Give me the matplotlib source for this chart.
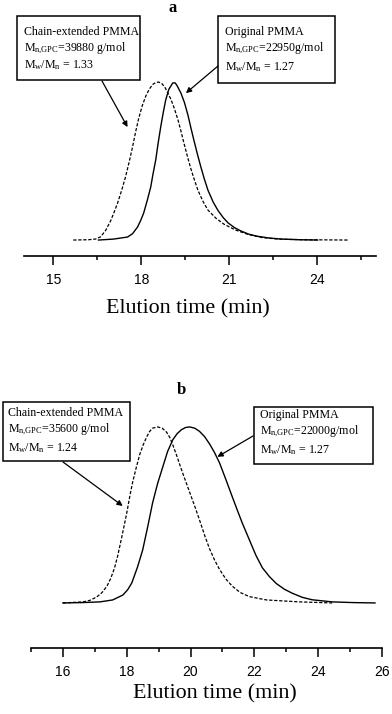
import matplotlib.pyplot as plt
from matplotlib.patches import Rectangle
from matplotlib.ticker import MultipleLocator

# ---- panel a: elution time (min) vs normalised detector signal
a_ext_t = [15.68, 16.20, 16.43, 16.61, 16.78, 16.95, 17.07, 17.19, 17.33, 17.46,
           17.58, 17.70, 17.80, 17.91, 18.03, 18.15, 18.27, 18.39, 18.50, 18.59,
           18.70, 18.80, 18.90, 19.01, 19.13, 19.25, 19.35, 19.45, 19.57, 19.69,
           19.81, 19.93, 20.10, 20.27, 20.55, 20.82, 21.23, 21.65, 22.10, 22.67,
           23.50, 25.07]
a_ext_h = [0.0, 0.002, 0.006, 0.020, 0.060, 0.120, 0.175, 0.234, 0.315, 0.399,
           0.490, 0.589, 0.680, 0.770, 0.850, 0.910, 0.955, 0.985, 0.998, 1.0,
           0.990, 0.968, 0.932, 0.890, 0.830, 0.760, 0.690, 0.615, 0.530, 0.450,
           0.380, 0.315, 0.245, 0.190, 0.137, 0.100, 0.062, 0.035, 0.016, 0.006,
           0.002, 0.0]
a_org_t = [16.54, 17.05, 17.53, 17.70, 17.87, 17.98, 18.08, 18.20, 18.32, 18.40,
           18.49, 18.57, 18.66, 18.75, 18.83, 18.94, 19.07, 19.15, 19.21, 19.35,
           19.47, 19.59, 19.69, 19.79, 19.91, 20.03, 20.15, 20.27, 20.45, 20.62,
           20.80, 20.96, 21.18, 21.40, 21.65, 21.92, 22.35, 22.78, 23.40, 24.01]
a_org_h = [0.0, 0.006, 0.019, 0.040, 0.082, 0.125, 0.171, 0.250, 0.335, 0.420,
           0.506, 0.610, 0.715, 0.810, 0.886, 0.955, 0.994, 0.995, 0.980, 0.930,
           0.870, 0.790, 0.710, 0.633, 0.545, 0.462, 0.385, 0.316, 0.240, 0.185,
           0.140, 0.108, 0.078, 0.057, 0.038, 0.025, 0.013, 0.006, 0.002, 0.0]

# ---- panel b
b_ext_t = [16.00, 16.63, 16.85, 17.06, 17.22, 17.38, 17.50, 17.62, 17.72, 17.84,
           18.00, 18.10, 18.19, 18.30, 18.41, 18.52, 18.63, 18.72, 18.81, 18.97,
           19.11, 19.25, 19.35, 19.44, 19.58, 19.72, 19.88, 20.03, 20.15, 20.28,
           20.44, 20.59, 20.75, 20.91, 21.11, 21.31, 21.55, 21.84, 22.38, 23.41,
           24.44]
b_ext_h = [0.0, 0.006, 0.015, 0.034, 0.058, 0.095, 0.140, 0.200, 0.270, 0.370,
           0.510, 0.610, 0.690, 0.770, 0.845, 0.900, 0.945, 0.975, 0.993, 1.0,
           0.993, 0.970, 0.940, 0.900, 0.830, 0.755, 0.675, 0.600, 0.540, 0.472,
           0.385, 0.310, 0.245, 0.190, 0.135, 0.095, 0.060, 0.036, 0.017, 0.006,
           0.0]
b_org_t = [16.00, 16.60, 17.16, 17.56, 17.88, 18.03, 18.16, 18.34, 18.50, 18.66,
           18.81, 18.97, 19.13, 19.28, 19.44, 19.58, 19.72, 19.85, 19.97, 20.13,
           20.28, 20.44, 20.59, 20.75, 20.91, 21.11, 21.31, 21.47, 21.63, 21.84,
           22.05, 22.25, 22.47, 22.69, 22.94, 23.19, 23.50, 23.81, 24.44, 25.10,
           25.78]
b_org_h = [0.0, 0.002, 0.006, 0.017, 0.045, 0.075, 0.114, 0.205, 0.301, 0.435,
           0.568, 0.680, 0.773, 0.860, 0.926, 0.962, 0.985, 0.997, 1.0, 0.993,
           0.975, 0.945, 0.905, 0.855, 0.795, 0.700, 0.602, 0.525, 0.450, 0.360,
           0.270, 0.200, 0.150, 0.110, 0.078, 0.055, 0.032, 0.018, 0.006, 0.002,
           0.0]

a_ext_txt = ['Chain-extended PMMA', r'M$_\mathrm{n{,}GPC}$=39880 g/mol', r'M$_\mathrm{w}$/M$_\mathrm{n}$ = 1.33']
a_org_txt = ['Original PMMA', r'M$_\mathrm{n{,}GPC}$=22950g/mol', r'M$_\mathrm{w}$/M$_\mathrm{n}$ = 1.27']
b_ext_txt = ['Chain-extended PMMA', r'M$_\mathrm{n{,}GPC}$=35600 g/mol', r'M$_\mathrm{w}$/M$_\mathrm{n}$ = 1.24']
b_org_txt = ['Original PMMA', r'M$_\mathrm{n{,}GPC}$=22000g/mol', r'M$_\mathrm{w}$/M$_\mathrm{n}$ = 1.27']

#====================================================================
plt.rcParams['font.family'] = 'Liberation Serif'
plt.rcParams['mathtext.fontset'] = 'custom'
plt.rcParams['mathtext.rm'] = 'Liberation Serif'
plt.rcParams['mathtext.it'] = 'Liberation Serif:italic'

W, H = 392, 714
fig = plt.figure(figsize=(W/100., H/100.), dpi=100)

def fx(x):
    return x/float(W)

def fy(y):
    return 1 - y/float(H)

def box(x0, y0, x1, y1, lines, tx, ybase):
    fig.add_artist(Rectangle((fx(x0), fy(y1)), fx(x1) - fx(x0), fy(y0) - fy(y1),
                             transform=fig.transFigure, fill=False, ec='black', lw=1.1))
    for s, yb in zip(lines, ybase):
        fig.text(fx(tx), fy(yb), s, fontsize=8.6, ha='left', va='baseline')

def arrow(ax, tip, tail):
    ax.annotate('', xy=tip, xycoords='data', xytext=(fx(tail[0]), fy(tail[1])),
                textcoords='figure fraction', annotation_clip=False,
                arrowprops=dict(arrowstyle='-|>', color='black', lw=0.9,
                                mutation_scale=8, shrinkA=0, shrinkB=0))

def setup(ax, xlim, ylim, major, minor, lab_x, lab_y):
    ax.set_xlim(xlim)
    ax.set_ylim(ylim)
    for s in ['left', 'right', 'top']:
        ax.spines[s].set_visible(False)
    ax.spines['bottom'].set_linewidth(1.2)
    ax.set_yticks([])
    ax.patch.set_alpha(0)
    ax.xaxis.set_major_locator(MultipleLocator(major))
    ax.xaxis.set_minor_locator(MultipleLocator(minor))
    ax.tick_params(axis='x', which='major', direction='out', length=6.5, width=1.1,
                   pad=5.5, labelsize=10, labelfontfamily='Liberation Sans')
    ax.tick_params(axis='x', which='minor', direction='out', length=3, width=1.1)
    ax.set_xlabel('Elution time (min)', fontsize=15.8)
    ax.xaxis.label.set_va('center')
    ax.xaxis.set_label_coords(lab_x, lab_y)

dash = (0, (2.6, 1.4))

# -- panel a
axA = fig.add_axes([24./W, 458./H, 352./W, 240./H])
axA.plot(a_ext_t, a_ext_h, color='black', lw=0.9, ls=dash)
axA.plot(a_org_t, a_org_h, color='black', lw=1.0)
setup(axA, (14, 26), (-0.101, 1.418), 3, 1.5, 0.466, -(309 - 256)/240.)
fig.text(fx(173), fy(8), 'a', fontsize=12, fontweight='bold', ha='center', va='center')
box(17, 16, 140, 80, a_ext_txt, 24, [35, 51, 68])
box(218, 16, 335, 83, a_org_txt, 225, [35, 51, 70])
arrow(axA, (17.53, 0.715), (102, 81))
arrow(axA, (19.52, 0.93), (218, 66))

# -- panel b
axB = fig.add_axes([31./W, 66./H, 351./W, 248./H])
axB.plot(b_ext_t, b_ext_h, color='black', lw=0.9, ls=dash)
axB.plot(b_org_t, b_org_h, color='black', lw=1.0)
setup(axB, (15, 26), (-0.256, 1.153), 2, 1, 0.523, -(694 - 648)/248.)
fig.text(fx(181), fy(390), 'b', fontsize=12, fontweight='bold', ha='center', va='center')
box(3, 402, 130, 461, b_ext_txt, 8, [416, 432, 451])
box(254, 407, 373, 464, b_org_txt, 260, [418, 434, 453])
arrow(axB, (17.875, 0.551), (63, 462))
arrow(axB, (20.84, 0.83), (253, 436))

fig.savefig('out.png', dpi=100)
